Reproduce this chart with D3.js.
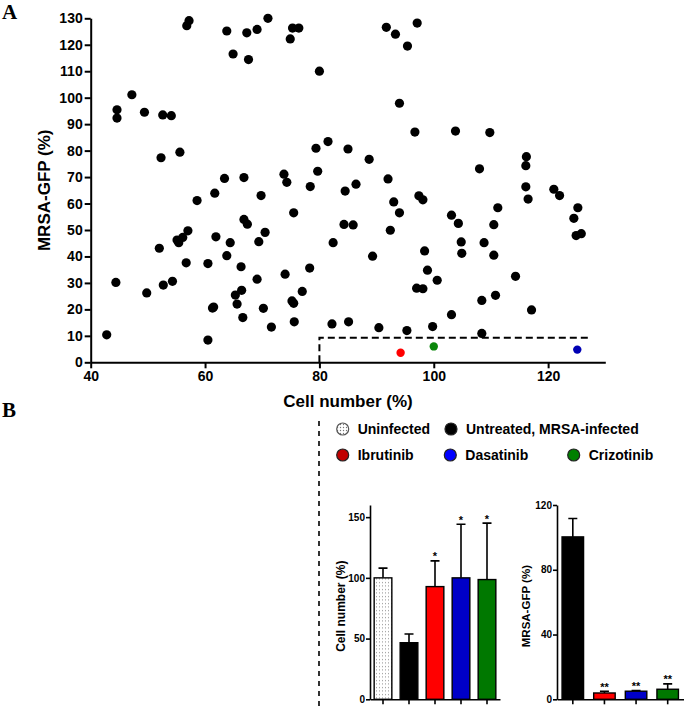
<!DOCTYPE html>
<html><head><meta charset="utf-8">
<script src="https://cdn.jsdelivr.net/npm/d3@7"></script>
<style>
body{margin:0;background:#fff}
svg{display:block}
text{font-family:"Liberation Sans",Arial,sans-serif;font-weight:bold;fill:#000}
</style>
</head><body>
<svg id="chart" width="685" height="708"></svg>
<script>
// ---------- DATA ----------
const scatterX = [44.6,44.6,47.2,49.4,52.6,54.1,52.3,55.6,56.8,57.2,63.8,64.9,67.3,67.6,69.1,71.0,74.9,75.3,76.4,80.0,
  79.4,81.5,85.0,79.7,73.8,74.3,78.4,84.5,63.4,66.8,61.7,69.8,58.6,91.7,93.3,97.1,95.4,94.0,96.7,103.8,
  109.8,88.7,92.0,86.4,108.0,116.2,116.1,116.1,121.0,122.0,116.5,97.4,98.1,93.0,94.0,92.4,89.3,82.4,84.3,85.9,
  98.4,98.9,100.6,97.0,98.1,103.1,104.3,104.8,104.9,111.2,110.5,108.8,110.5,114.3,108.4,110.8,117.1,103.1,82.2,85.1,
  90.4,95.3,99.8,108.4,124.5,125.2,124.9,125.8,44.4,42.8,49.8,52.0,52.7,54.3,55.1,55.4,56.1,57.0,56.7,61.9,
  60.5,63.8,64.4,66.8,67.4,66.3,65.3,65.6,66.4,61.3,61.5,60.5,66.6,69.4,70.5,69.1,70.2,71.6,74.0,75.2,
  75.5,75.5,75.6,77.0,78.3];
const scatterY = [95.4,92.3,101.1,94.5,93.5,93.2,77.3,79.4,127.2,129.1,125.2,116.5,124.5,114.4,125.8,130.0,122.2,126.3,126.3,110.0,
  80.9,83.4,80.6,72.2,71.1,68.0,66.4,64.7,69.5,69.8,63.9,63.0,61.1,126.6,124.0,128.2,119.5,97.9,87.0,87.4,
  86.8,76.7,69.3,67.3,73.1,77.7,74.3,66.3,65.4,63.0,61.7,62.9,61.4,60.6,56.5,49.9,40.1,45.2,52.1,51.9,
  42.1,34.8,31.0,28.0,27.8,55.6,52.5,45.5,41.2,58.4,52.0,45.2,40.5,32.5,23.4,25.3,19.8,18.0,14.5,15.3,
  13.1,12.0,13.5,10.9,54.4,58.4,47.9,48.6,30.2,10.4,26.2,43.1,29.2,30.6,46.2,45.2,47.2,49.7,37.6,47.4,
  37.3,40.3,45.2,54.0,52.2,36.1,25.4,22.0,27.2,20.5,20.9,8.4,16.9,45.6,49.1,31.4,20.4,13.3,33.3,23.2,
  22.3,56.5,15.3,26.8,35.6];
const treatedNames = ["Ibrutinib","Crizotinib","Dasatinib"];
const treatedX = [94.2,100.0,125.1];
const treatedY = [3.6,6.0,4.8];
const thresholdX = [80,127];
const thresholdY = 9.3;
const scatterXTicks = [40,60,80,100,120];
const scatterYTicks = [0,10,20,30,40,50,60,70,80,90,100,110,120,130];

const cellCategories = ["Uninfected","Untreated","Ibrutinib","Dasatinib","Crizotinib"];
const cellMean = [100,46.6,92.8,100,98.6];
const cellSD = [8,7.2,21.2,44.2,46.5];
const cellSig = ["","","*","*","*"];
const cellTicks = [0,50,100,150];

const gfpCategories = ["Untreated","Ibrutinib","Dasatinib","Crizotinib"];
const gfpMean = [100.3,3.9,5.0,6.2];
const gfpSD = [11.4,1.1,0.4,3.3];
const gfpSig = ["","**","**","**"];
const gfpTicks = [0,40,80,120];

const legendRow1 = ["Uninfected","Untreated, MRSA-infected"];
const legendRow2 = ["Ibrutinib","Dasatinib","Crizotinib"];

// ---------- STYLES ----------
const scatterColor = {Ibrutinib:"#ff0000",Crizotinib:"#0b870b",Dasatinib:"#0000b4"};
const barColor = {Uninfected:"url(#dots)",Untreated:"#000000",Ibrutinib:"#ff0000",Dasatinib:"#0000c8",Crizotinib:"#007800"};
const legendColor = {Uninfected:"url(#dotsL)","Untreated, MRSA-infected":"#000000",Ibrutinib:"#c00000",Dasatinib:"#0000ff",Crizotinib:"#008000"};

const svg = d3.select("#chart");
const defs = svg.append("defs");
const p1 = defs.append("pattern").attr("id","dots").attr("patternUnits","userSpaceOnUse").attr("width",3).attr("height",3.5);
p1.append("rect").attr("width",3).attr("height",3.5).attr("fill","#fff");
p1.append("rect").attr("x",1).attr("y",1).attr("width",1).attr("height",1).attr("fill","#8a8a8a");
const p2 = defs.append("pattern").attr("id","dotsL").attr("patternUnits","userSpaceOnUse").attr("width",3).attr("height",3);
p2.append("rect").attr("width",3).attr("height",3).attr("fill","#fff");
p2.append("circle").attr("cx",1.5).attr("cy",1.5).attr("r",0.7).attr("fill","#777");

function styleAxis(g, w, fs){
  g.select(".domain").attr("stroke","#000").attr("stroke-width",w);
  g.selectAll(".tick line").attr("stroke","#000").attr("stroke-width",w);
  g.selectAll(".tick text").attr("font-size",fs).attr("font-family","'Liberation Sans',Arial,sans-serif").attr("font-weight","bold").attr("fill","#000");
}

// ---------- PANEL A ----------
const x = d3.scaleLinear().domain([40,130]).range([90.7,605.3]);
const y = d3.scaleLinear().domain([0,130]).range([362.3,18.3]);

svg.append("text").text("A").attr("x",2).attr("y",19).attr("font-size",21)
  .style("font-family","'Liberation Serif','Times New Roman',serif");

const gx = svg.append("g").attr("transform",`translate(0,${y(0)})`)
  .call(d3.axisBottom(x).tickValues(scatterXTicks).tickSize(6).tickSizeOuter(0).tickPadding(3));
styleAxis(gx,2,14);
const gy = svg.append("g").attr("transform",`translate(${x(40)},0)`)
  .call(d3.axisLeft(y).tickValues(scatterYTicks).tickSize(6).tickSizeOuter(0).tickPadding(2));
styleAxis(gy,2,14);

svg.append("text").text("Cell number (%)").attr("x",(x(40)+x(130))/2).attr("y",407)
  .attr("text-anchor","middle").attr("font-size",17);
svg.append("text").text("MRSA-GFP (%)").attr("transform",`translate(50,${(y(0)+y(130))/2}) rotate(-90)`)
  .attr("text-anchor","middle").attr("font-size",17);

// threshold box
svg.append("path")
  .attr("d",`M${x(thresholdX[0])},${y(0)}V${y(thresholdY)}H${x(thresholdX[1])}`)
  .attr("fill","none").attr("stroke","#000").attr("stroke-width",2).attr("stroke-dasharray","7,4");

svg.append("g").selectAll("circle").data(scatterX.map((d,i)=>[d,scatterY[i]])).join("circle")
  .attr("cx",d=>x(d[0])).attr("cy",d=>y(d[1])).attr("r",4.6).attr("fill","#000");
svg.append("g").selectAll("circle").data(treatedNames.map((n,i)=>({n,x:treatedX[i],y:treatedY[i]}))).join("circle")
  .attr("cx",d=>x(d.x)).attr("cy",d=>y(d.y)).attr("r",4.2).attr("fill",d=>scatterColor[d.n]);

// ---------- PANEL B ----------
svg.append("text").text("B").attr("x",2).attr("y",417).attr("font-size",21)
  .style("font-family","'Liberation Serif','Times New Roman',serif");
svg.append("line").attr("x1",319).attr("x2",319).attr("y1",421).attr("y2",708)
  .attr("stroke","#000").attr("stroke-width",1.6).attr("stroke-dasharray","5,5");

// legend
const legPos1 = [342.7,451];
const legPos2 = [342.7,450.3,573.7];
function legendItem(name, cx, cy){
  svg.append("circle").attr("cx",cx).attr("cy",cy).attr("r",6)
    .attr("fill",legendColor[name]).attr("stroke",name==="Uninfected"?"#555":"#222").attr("stroke-width",1.2);
  svg.append("text").text(name).attr("x",cx+15).attr("y",cy+5).attr("font-size",14);
}
legendRow1.forEach((n,i)=>legendItem(n,legPos1[i],429));
legendRow2.forEach((n,i)=>legendItem(n,legPos2[i],455));

function barChart(cats, means, sds, sigs, ticks, ymax, xr, ylab, labX, fsLab){
  const bx = d3.scaleBand().domain(cats).range(xr).paddingInner(0.32).paddingOuter(0.16);
  const by = d3.scaleLinear().domain([0,ymax]).range([699.3,505]);
  const g = svg.append("g");
  const ya = g.append("g").attr("transform",`translate(${xr[0]},0)`)
    .call(d3.axisLeft(by).tickValues(ticks).tickSize(4).tickSizeOuter(0).tickPadding(1));
  styleAxis(ya,1.6,10);
  const xa = g.append("g").attr("transform",`translate(0,${by(0)})`)
    .call(d3.axisBottom(bx).tickSize(5).tickSizeOuter(0).tickFormat(""));
  styleAxis(xa,1.6,10);
  const data = cats.map((c,i)=>({c,m:means[i],s:sds[i],sig:sigs[i]}));
  // error bars
  g.selectAll(".eb").data(data).join("path")
    .attr("d",d=>{const cx=bx(d.c)+bx.bandwidth()/2;const t=by(d.m+d.s);
      return `M${cx},${by(d.m)}V${t}M${cx-4.5},${t}H${cx+4.5}`;})
    .attr("stroke","#000").attr("stroke-width",1.6).attr("fill","none");
  g.selectAll(".bar").data(data).join("rect")
    .attr("x",d=>bx(d.c)).attr("width",bx.bandwidth())
    .attr("y",d=>by(d.m)).attr("height",d=>by(0)-by(d.m))
    .attr("fill",d=>barColor[d.c]).attr("stroke","#000").attr("stroke-width",1.4);
  g.selectAll(".sig").data(data.filter(d=>d.sig)).join("text")
    .text(d=>d.sig).attr("x",d=>bx(d.c)+bx.bandwidth()/2).attr("y",d=>by(d.m+d.s)-0.5)
    .attr("text-anchor","middle").attr("font-size",11).attr("font-weight","normal");
  svg.append("text").text(ylab).attr("transform",`translate(${labX},${(by(0)+by(ymax))/2+4}) rotate(-90)`)
    .attr("text-anchor","middle").attr("font-size",fsLab);
}
barChart(cellCategories,cellMean,cellSD,cellSig,cellTicks,160,[370,500],"Cell number (%)",345,12);
barChart(gfpCategories,gfpMean,gfpSD,gfpSig,gfpTicks,120,[557,683.5],"MRSA-GFP (%)",530,11.5);
</script>
</body></html>
